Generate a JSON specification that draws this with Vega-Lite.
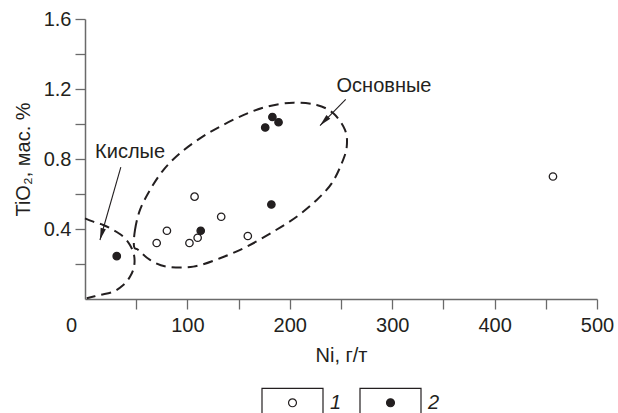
{
  "$schema": "https://vega.github.io/schema/vega-lite/v6.json",
  "width": 512,
  "height": 280,
  "autosize": {"type": "none"},
  "padding": {"left": 85, "top": 19, "right": 21, "bottom": 114},
  "background": "white",
  "config": {
    "view": {"stroke": null},
    "font": "Liberation Sans",
    "axis": {
      "domainColor": "#6a6a6a",
      "domainWidth": 1.5,
      "tickColor": "#6a6a6a",
      "tickWidth": 1.3,
      "tickSize": 10,
      "labelFontSize": 20,
      "labelColor": "#231f20",
      "titleFontSize": 20,
      "titleFontWeight": "normal",
      "titleColor": "#231f20",
      "grid": false,
      "labelOverlap": false,
      "labelFont": "Liberation Sans",
      "titleFont": "Liberation Sans"
    }
  },
  "datasets": {
    "pts": [
      {"ni": 70, "tio2": 0.32, "type": "1"},
      {"ni": 80, "tio2": 0.39, "type": "1"},
      {"ni": 102, "tio2": 0.32, "type": "1"},
      {"ni": 110, "tio2": 0.35, "type": "1"},
      {"ni": 107, "tio2": 0.585, "type": "1"},
      {"ni": 133, "tio2": 0.47, "type": "1"},
      {"ni": 159, "tio2": 0.36, "type": "1"},
      {"ni": 457, "tio2": 0.7, "type": "1"},
      {"ni": 31, "tio2": 0.245, "type": "2"},
      {"ni": 113, "tio2": 0.39, "type": "2"},
      {"ni": 182, "tio2": 0.54, "type": "2"},
      {"ni": 176, "tio2": 0.98, "type": "2"},
      {"ni": 183, "tio2": 1.04, "type": "2"},
      {"ni": 189, "tio2": 1.01, "type": "2"}
    ],
    "basic": [
      {"i": 1, "ni": 47.9, "tio2": 0.299},
      {"i": 2, "ni": 48.8, "tio2": 0.394},
      {"i": 3, "ni": 53.7, "tio2": 0.509},
      {"i": 4, "ni": 63.5, "tio2": 0.623},
      {"i": 5, "ni": 76.5, "tio2": 0.737},
      {"i": 6, "ni": 92.8, "tio2": 0.833},
      {"i": 7, "ni": 112.3, "tio2": 0.918},
      {"i": 8, "ni": 131.8, "tio2": 0.985},
      {"i": 9, "ni": 154.6, "tio2": 1.051},
      {"i": 10, "ni": 177.4, "tio2": 1.099},
      {"i": 11, "ni": 203.4, "tio2": 1.122},
      {"i": 12, "ni": 226.3, "tio2": 1.109},
      {"i": 13, "ni": 242.5, "tio2": 1.061},
      {"i": 14, "ni": 253.9, "tio2": 0.966},
      {"i": 15, "ni": 255.6, "tio2": 0.87},
      {"i": 16, "ni": 250.7, "tio2": 0.775},
      {"i": 17, "ni": 240.9, "tio2": 0.661},
      {"i": 18, "ni": 226.3, "tio2": 0.566},
      {"i": 19, "ni": 206.7, "tio2": 0.47},
      {"i": 20, "ni": 183.9, "tio2": 0.385},
      {"i": 21, "ni": 157.9, "tio2": 0.299},
      {"i": 22, "ni": 131.8, "tio2": 0.233},
      {"i": 23, "ni": 105.8, "tio2": 0.185},
      {"i": 24, "ni": 79.8, "tio2": 0.185},
      {"i": 25, "ni": 63.5, "tio2": 0.223},
      {"i": 26, "ni": 52.1, "tio2": 0.28}
    ],
    "acid": [
      {"i": 1, "ni": 0, "tio2": 0.461},
      {"i": 2, "ni": 8.1, "tio2": 0.442},
      {"i": 3, "ni": 17.9, "tio2": 0.423},
      {"i": 4, "ni": 27.6, "tio2": 0.394},
      {"i": 5, "ni": 37.4, "tio2": 0.356},
      {"i": 6, "ni": 43.9, "tio2": 0.309},
      {"i": 7, "ni": 47.9, "tio2": 0.251},
      {"i": 8, "ni": 47.9, "tio2": 0.185},
      {"i": 9, "ni": 43.9, "tio2": 0.127},
      {"i": 10, "ni": 37.4, "tio2": 0.08},
      {"i": 11, "ni": 27.6, "tio2": 0.042},
      {"i": 12, "ni": 14.6, "tio2": 0.023},
      {"i": 13, "ni": 1.7, "tio2": 0.004}
    ],
    "arrows": [
      {"name": "acid", "ni": 35, "tio2": 0.754, "ni2": 14.6, "tio22": 0.337},
      {"name": "basic", "ni": 254.6, "tio2": 1.141, "ni2": 229.5, "tio22": 0.991}
    ],
    "labels": [
      {"ni": 44, "tio2": 0.84, "text": "Кислые"},
      {"ni": 292, "tio2": 1.217, "text": "Основные"}
    ]
  },
  "layer": [
    {
      "data": {"name": "basic"},
      "mark": {"type": "line", "interpolate": "cardinal-closed", "strokeDash": [10, 6], "strokeWidth": 2, "color": "#231f20"},
      "encoding": {
        "x": {"field": "ni", "type": "quantitative", "scale": {"domain": [0, 500], "nice": false, "zero": false},
          "axis": {
            "values": [0, 50, 100, 150, 200, 250, 300, 350, 400, 450, 500],
            "tickCount": 20,
            "labelExpr": "datum.value % 100 == 0 ? datum.label : ''",
            "labelFlush": false,
            "labelPadding": 6,
            "labelOffset": {"condition": {"test": "datum.value == 0", "value": -14}, "value": 0},
            "tickOpacity": {"condition": {"test": "datum.value == 0", "value": 0}, "value": 1},
            "title": "Ni, г/т",
            "titlePadding": 10
          }},
        "y": {"field": "tio2", "type": "quantitative", "scale": {"domain": [0, 1.6], "nice": false, "zero": false},
          "axis": {
            "values": [0.2, 0.4, 0.6, 0.8, 1.0, 1.2, 1.4, 1.6],
            "tickCount": 20,
            "format": ".1f",
            "labelExpr": "(datum.value == 0.4 || datum.value == 0.8 || datum.value == 1.2 || datum.value == 1.6) ? datum.label : ''",
            "labelPadding": 4,
            "labelFlush": false,
            "title": "TiO₂, мас. %",
            "titlePadding": 10
          }},
        "order": {"field": "i", "type": "quantitative"}
      }
    },
    {
      "data": {"name": "acid"},
      "mark": {"type": "line", "interpolate": "cardinal", "strokeDash": [10, 6], "strokeWidth": 2, "color": "#231f20"},
      "encoding": {
        "x": {"field": "ni", "type": "quantitative"},
        "y": {"field": "tio2", "type": "quantitative"},
        "order": {"field": "i", "type": "quantitative"}
      }
    },
    {
      "data": {"name": "arrows"},
      "mark": {"type": "rule", "strokeWidth": 1.1, "color": "#231f20"},
      "encoding": {
        "x": {"field": "ni", "type": "quantitative"},
        "y": {"field": "tio2", "type": "quantitative"},
        "x2": {"field": "ni2"},
        "y2": {"field": "tio22"}
      }
    },
    {
      "data": {"name": "arrows"},
      "transform": [{"filter": "datum.name == 'acid'"}],
      "mark": {"type": "point", "shape": "M0,0L-0.45,2L0.45,2Z", "filled": true, "size": 144, "angle": 196, "color": "#231f20", "opacity": 1},
      "encoding": {
        "x": {"field": "ni2", "type": "quantitative"},
        "y": {"field": "tio22", "type": "quantitative"}
      }
    },
    {
      "data": {"name": "arrows"},
      "transform": [{"filter": "datum.name == 'basic'"}],
      "mark": {"type": "point", "shape": "M0,0L-0.45,2L0.45,2Z", "filled": true, "size": 144, "angle": 224, "color": "#231f20", "opacity": 1},
      "encoding": {
        "x": {"field": "ni2", "type": "quantitative"},
        "y": {"field": "tio22", "type": "quantitative"}
      }
    },
    {
      "data": {"name": "labels"},
      "mark": {"type": "text", "fontSize": 20, "align": "center", "baseline": "middle", "color": "#231f20", "font": "Liberation Sans"},
      "encoding": {
        "x": {"field": "ni", "type": "quantitative"},
        "y": {"field": "tio2", "type": "quantitative"},
        "text": {"field": "text"}
      }
    },
    {
      "data": {"name": "pts"},
      "mark": {"type": "point", "filled": true, "size": 55, "stroke": "#231f20", "strokeWidth": 1.3, "opacity": 1},
      "encoding": {
        "x": {"field": "ni", "type": "quantitative"},
        "y": {"field": "tio2", "type": "quantitative"},
        "fill": {"field": "type", "type": "nominal",
          "scale": {"domain": ["1", "2"], "range": ["#ffffff", "#231f20"]},
          "legend": {
            "title": null,
            "orient": "none",
            "legendX": 176,
            "legendY": 352,
            "direction": "horizontal",
            "symbolType": "M-1,-0.475H1V0.475H-1ZM-1,-0.475V0.475H1V-0.475ZM0.13,0A0.13,0.13,0,1,1,-0.13,0A0.13,0.13,0,1,1,0.13,0Z",
            "symbolSize": 3721,
            "symbolStrokeColor": "#231f20",
            "symbolStrokeWidth": 1.2,
            "labelFontSize": 20,
            "labelFontStyle": "italic",
            "labelColor": "#231f20",
            "labelOffset": 6,
            "columnPadding": 15,
            "padding": 0
          }}
      }
    }
  ]
}
